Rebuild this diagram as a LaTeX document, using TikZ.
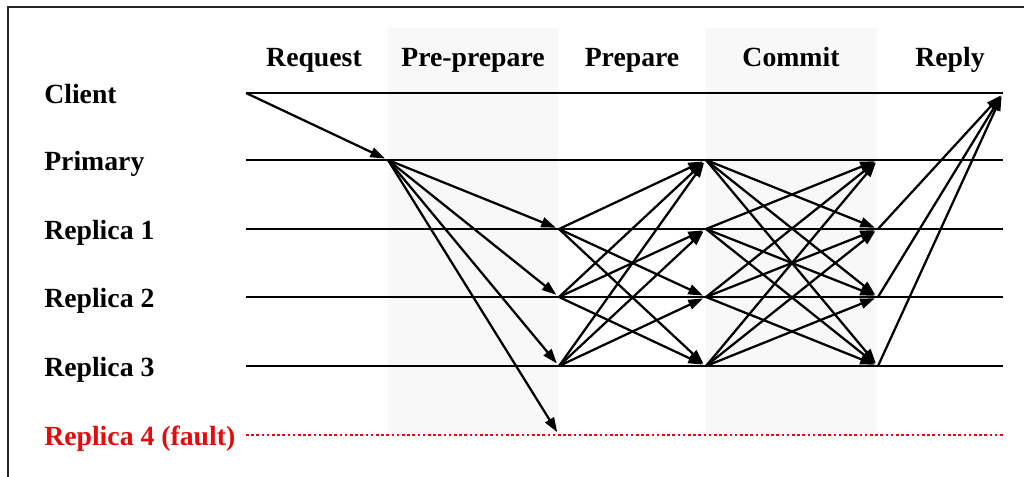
\documentclass[tikz,border=0pt]{standalone}
\usepackage{fontspec}
\setmainfont{Liberation Serif}
\usetikzlibrary{arrows.meta}
\definecolor{faultred}{RGB}{225,12,12}
\definecolor{bandgray}{RGB}{248,248,248}
\tikzset{
  lane/.style={line width=1.9pt},
  faultlane/.style={line width=2pt, faultred, dash pattern=on 2pt off 1.9pt},
  msg/.style={line width=1.7pt, -{Triangle[length=11pt,width=7.5pt]}, shorten >=2.5pt},
  lbl/.style={anchor=base west, inner sep=0pt, font=\fontsize{20.8}{25}\bfseries\selectfont},
  hdr/.style={anchor=base, inner sep=0pt, font=\fontsize{20.8}{25}\bfseries\selectfont},
  band/.style={fill=bandgray, draw=none}
}
\begin{document}
\begin{tikzpicture}[x=0.75pt,y=-0.75pt]
    \useasboundingbox (0,0) rectangle (1024,477);
    % shaded phases
    \path[band] (388,28) rectangle (558,435);
    \path[band] (706,28) rectangle (877,435);
    % frame
    \draw[line width=1.3pt, black!85] (8,477) -- (8,7) -- (1024,7);

    % phase titles
    \node[hdr] (h-req) at (314,67) {Request};
    \node[hdr] (h-pre) at (473,67) {Pre-prepare};
    \node[hdr] (h-prp) at (632,67) {Prepare};
    \node[hdr] (h-com) at (791,67) {Commit};
    \node[hdr] (h-rep) at (950,67) {Reply};

    % lanes: s = start, q = request, p = prepare, c = commit, r = reply, e = end
    \foreach \nm/\y/\txt in {cl/93/Client, pr/160/Primary, ra/229/Replica 1,
                             rb/297/Replica 2, rc/366/Replica 3, rd/435/Replica 4 (fault)} {
        \coordinate (\nm-s) at (246,\y);
        \coordinate (\nm-q) at (388,\y);
        \coordinate (\nm-p) at (559,\y);
        \coordinate (\nm-c) at (706,\y);
        \coordinate (\nm-r) at (878,\y);
        \coordinate (\nm-e) at (1003,\y);
    }
    \foreach \nm/\y/\txt in {cl/93/Client, pr/160/Primary, ra/229/Replica 1,
                             rb/297/Replica 2, rc/366/Replica 3} {
        \node[lbl] (lbl-\nm) at (44,\y+10.5) {\txt};
        \draw[lane] (\nm-s) -- (\nm-e);
    }
    \node[lbl, faultred] (lbl-rd) at (44,445.5) {Replica 4 (fault)};
    \draw[faultlane] (rd-s) -- (rd-e);

    % request
    \draw[msg] (cl-s) -- (pr-q);
    % pre-prepare
    \foreach \dst in {ra,rb,rc,rd}
        \draw[msg] (pr-q) -- (\dst-p);
    % prepare
    \foreach \src in {ra,rb,rc}
        \foreach \dst in {pr,ra,rb,rc} {
            \ifx\src\dst\else\draw[msg] (\src-p) -- (\dst-c);\fi
        }
    % commit
    \foreach \src in {pr,ra,rb,rc}
        \foreach \dst in {pr,ra,rb,rc} {
            \ifx\src\dst\else\draw[msg] (\src-c) -- (\dst-r);\fi
        }
    % reply
    \foreach \src in {ra,rb,rc}
        \draw[msg] (\src-r) -- (cl-e);
\end{tikzpicture}
\end{document}
